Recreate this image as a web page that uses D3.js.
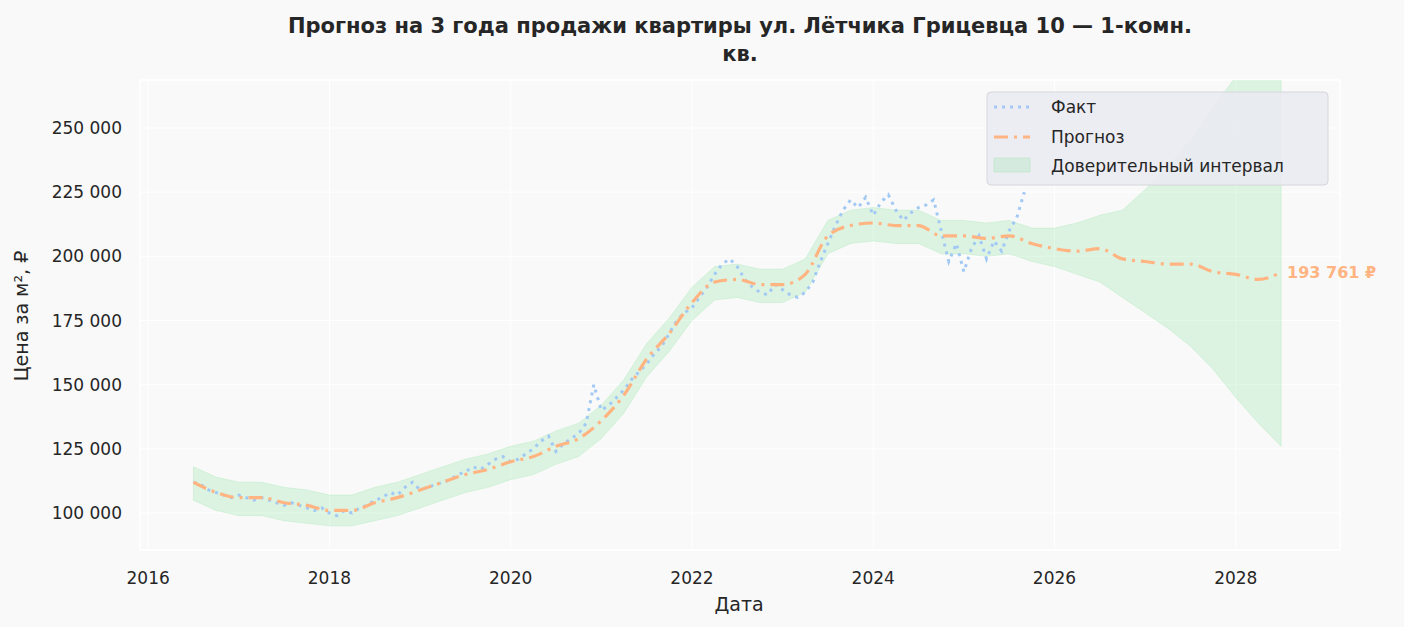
<!DOCTYPE html>
<html><head><meta charset="utf-8">
<script src="https://cdn.jsdelivr.net/npm/d3@7"></script>
<style>body{margin:0;background:#f9f9f9;font-family:"DejaVu Sans",sans-serif}</style>
</head><body><svg id="c" width="1404" height="627"></svg>
<script>
// quarterly forecast from 2016.5
const forecastStart = 2016.5;
const forecast = [112,108,106,106,104,103,101,101,104,106,109,112,115,117,120,122,126,129,136,146,160,170,182,190,191,189,189,193,208,212,213,212,212,208,208,207,208,205,203,202,203,199,198,197,197,194,193,191,193.761];
const ciLow = [105,101,99,99,97,96,95,95,97,99,102,105,108,110,113,115,119,122,129,139,153,163,175,183,184,182,182,186,201,205,206,205,205,201,201,200,201,198,196,193,190,184,178,172,165,156,145,135,126];
const ciHigh = [118,114,112,112,110,109,107,107,110,112,115,118,121,123,126,128,132,135,142,152,166,176,188,196,197,195,195,199,214,218,219,218,218,214,214,213,214,211,211,213,216,218,226,235,245,258,270,280,290];
// monthly facts from 2016.5
const factStart = 2016.5;
const fact = [112,111,109,108,107,106,
107,106,105,106,105,104,103,104,103,102,101,102,
100,99,101,100,102,103,105,106,108,107,110,112,
109,110,111,112,113,115,116,118,117,119,121,122,
120,121,123,125,128,130,124,127,129,131,135,150,
140,142,145,148,152,155,158,162,165,170,175,178,
180,184,188,193,197,199,196,191,188,186,185,189,
187,185,184,186,190,198,205,212,218,222,219,223,
216,221,224,218,214,217,219,220,222,210,198,205,
194,203,208,199,206,202,210,215,225];
const yTicks = [100000,125000,150000,175000,200000,225000,250000];
const xTicks = [2016,2018,2020,2022,2024,2026,2028];

const svg = d3.select("#c");
const L=140,R=1340,T=80,B=550;
const x = d3.scaleLinear().domain([2015.91,2029.15]).range([L,R]);
const y = d3.scaleLinear().domain([85600,268700]).range([B,T]);
const fmt = v => d3.format(",")(v).replace(/,/g," ");

svg.append("rect").attr("x",L).attr("y",T).attr("width",R-L).attr("height",B-T).attr("fill","#f9f9f9").attr("stroke","#fff").attr("stroke-width",1.5);
svg.append("clipPath").attr("id","cp").append("rect").attr("x",L).attr("y",T).attr("width",R-L).attr("height",B-T);
const g = svg.append("g");
yTicks.forEach(t=>{
  g.append("line").attr("x1",L).attr("x2",R).attr("y1",y(t)).attr("y2",y(t)).attr("stroke","#fff").attr("stroke-width",1);
  svg.append("text").attr("x",122).attr("y",y(t)+6).attr("text-anchor","end").attr("font-size",17).attr("fill","#262626").text(fmt(t));
});
xTicks.forEach(t=>{
  g.append("line").attr("x1",x(t)).attr("x2",x(t)).attr("y1",T).attr("y2",B).attr("stroke","#fff").attr("stroke-width",1);
  svg.append("text").attr("x",x(t)).attr("y",584).attr("text-anchor","middle").attr("font-size",17).attr("fill","#262626").text(t);
});
const pg = svg.append("g").attr("clip-path","url(#cp)");
const qd = i => forecastStart + i*0.25;
pg.append("path").datum(forecast.map((v,i)=>i))
  .attr("d", d3.area().x(i=>x(qd(i))).y0(i=>y(ciLow[i]*1000)).y1(i=>y(ciHigh[i]*1000)))
  .attr("fill","#8de5a1").attr("fill-opacity",0.25).attr("stroke","#8de5a1").attr("stroke-opacity",0.25);
pg.append("path").datum(fact)
  .attr("d", d3.line().x((v,i)=>x(factStart+i/12)).y(v=>y(v*1000)))
  .attr("fill","none").attr("stroke","#a1c9f4").attr("stroke-width",3).attr("stroke-dasharray","3,5");
pg.append("path").datum(forecast)
  .attr("d", d3.line().curve(d3.curveMonotoneX).x((v,i)=>x(qd(i))).y(v=>y(v*1000)))
  .attr("fill","none").attr("stroke","#ffb482").attr("stroke-width",3.2).attr("stroke-dasharray","14,6,3,6");
const last = forecast.length-1;
svg.append("text").attr("x",x(qd(last))+6).attr("y",y(forecast[last]*1000)+6).attr("font-size",16).attr("font-weight","bold").attr("fill","#ffb482").text(fmt(Math.round(forecast[last]*1000))+" ₽");

svg.append("text").attr("x",740).attr("y",33).attr("text-anchor","middle").attr("font-size",21).attr("font-weight","bold").attr("fill","#262626").text("Прогноз на 3 года продажи квартиры  ул. Лётчика Грицевца 10 — 1-комн.");
svg.append("text").attr("x",740).attr("y",61).attr("text-anchor","middle").attr("font-size",21).attr("font-weight","bold").attr("fill","#262626").text("кв.");
svg.append("text").attr("x",739).attr("y",611).attr("text-anchor","middle").attr("font-size",19).attr("fill","#262626").text("Дата");
svg.append("text").attr("transform","translate(28,316) rotate(-90)").attr("text-anchor","middle").attr("font-size",19).attr("fill","#262626").text("Цена за м², ₽");

const lg = svg.append("g");
lg.append("rect").attr("x",987).attr("y",92).attr("width",341).attr("height",93).attr("rx",4).attr("fill","#eaeaf2").attr("fill-opacity",0.85).attr("stroke","#d6d6dc");
lg.append("line").attr("x1",994).attr("x2",1030).attr("y1",107).attr("y2",107).attr("stroke","#a1c9f4").attr("stroke-width",3).attr("stroke-dasharray","3,5");
lg.append("line").attr("x1",994).attr("x2",1030).attr("y1",137).attr("y2",137).attr("stroke","#ffb482").attr("stroke-width",3.2).attr("stroke-dasharray","14,6,3,6");
lg.append("rect").attr("x",994).attr("y",158).attr("width",36).attr("height",14).attr("fill","#8de5a1").attr("fill-opacity",0.25).attr("stroke","#8de5a1").attr("stroke-opacity",0.3);
[["Факт",113],["Прогноз",143],["Доверительный интервал",172]].forEach(([t,yy])=>
  lg.append("text").attr("x",1051).attr("y",yy).attr("font-size",17).attr("fill","#262626").text(t));
</script></body></html>
